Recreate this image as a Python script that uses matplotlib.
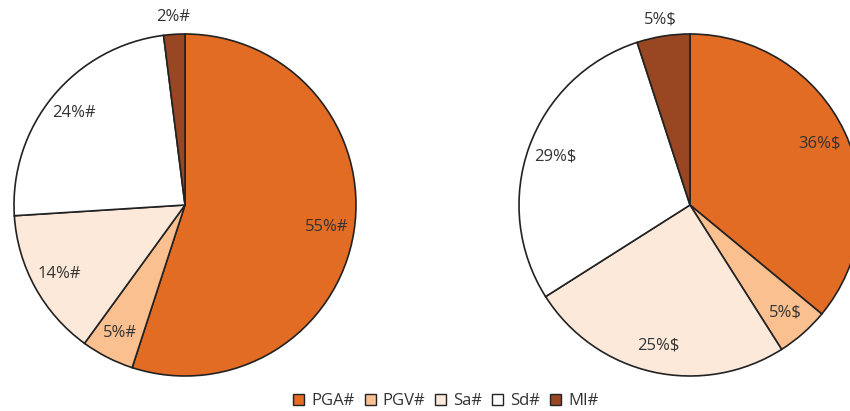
import matplotlib
matplotlib.use("Agg")
import matplotlib.pyplot as plt
from matplotlib.patches import Patch
import numpy as np

categories = ["PGA#", "PGV#", "Sa#", "Sd#", "MI#"]
left_values = [55, 5, 14, 24, 2]
right_values = [36, 5, 25, 29, 5]
left_labels = ["55%#", "5%#", "14%#", "24%#", "2%#"]
right_labels = ["36%$", "5%$", "25%$", "29%$", "5%$"]

colors = ["#E36C24", "#FAC08F", "#FDE9DA", "#FFFFFF", "#984722"]
edge = "#222222"
text_color = "#333333"

plt.rcParams["font.family"] = ["Open Sans", "DejaVu Sans"]

W, H = 850, 411
fig = plt.figure(figsize=(W / 100, H / 100), dpi=100)

R = 171


def pie_axes(cx, cy):
    return fig.add_axes([(cx - R) / W, (H - cy - R) / H, 2 * R / W, 2 * R / H])


def draw(ax, values, labels):
    wedges, _ = ax.pie(values, colors=colors, startangle=90, counterclock=False,
                       radius=1.0,
                       wedgeprops=dict(edgecolor=edge, linewidth=1.2))
    for w, lab in zip(wedges, labels):
        mid_deg = (w.theta1 + w.theta2) / 2
        mid = np.deg2rad(mid_deg)
        # narrow wedges at the top get their label outside the rim
        d = 1.1 if 80 < mid_deg % 360 < 110 else 0.84
        ax.text(d * np.cos(mid), d * np.sin(mid), lab, ha="center", va="center",
                fontsize=12, color=text_color, clip_on=False)
    ax.set_xlim(-1, 1)
    ax.set_ylim(-1, 1)
    ax.set_aspect("equal")
    ax.axis("off")


draw(pie_axes(185, 205), left_values, left_labels)
draw(pie_axes(690, 205), right_values, right_labels)

handles = [Patch(facecolor=c, edgecolor=edge, linewidth=1.0) for c in colors]
fig.legend(handles, categories, loc="center", bbox_to_anchor=(446 / W, 1 - 401 / H),
           ncol=5, frameon=False, fontsize=12, handlelength=0.66, handleheight=0.66,
           handletextpad=0.42, columnspacing=0.6, labelcolor=text_color,
           borderpad=0, borderaxespad=0)

fig.savefig("out.png", dpi=100)
